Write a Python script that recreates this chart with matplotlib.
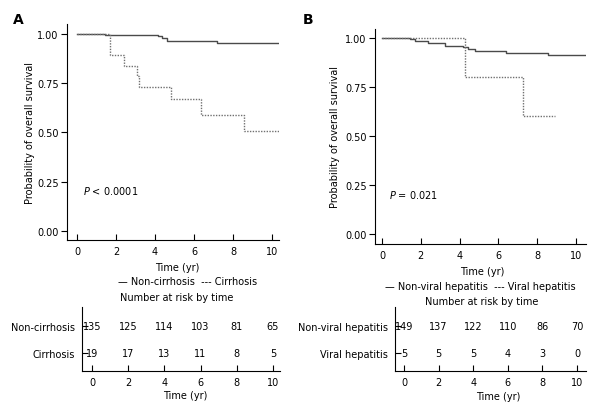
import matplotlib
matplotlib.use("Agg")
import matplotlib.pyplot as plt

# ---- data ----
time_ticks = [0, 2, 4, 6, 8, 10]
y_ticks = [0.0, 0.25, 0.50, 0.75, 1.00]
y_ticklabels = ["0.00", "0.25", "0.50", "0.75", "1.00"]

a_noncirr_t = [0, 1.45, 4.15, 4.35, 4.6, 7.2, 10.4]
a_noncirr_s = [1.0, 0.995, 0.99, 0.98, 0.965, 0.955, 0.955]
a_cirr_t = [0, 1.7, 2.4, 3.1, 3.2, 4.8, 6.35, 8.55, 10.4]
a_cirr_s = [1.0, 0.895, 0.84, 0.785, 0.73, 0.67, 0.59, 0.51, 0.51]

b_nonviral_t = [0, 1.45, 1.7, 2.35, 3.25, 4.2, 4.45, 4.8, 6.4, 8.55, 10.5]
b_nonviral_s = [1.0, 0.993, 0.985, 0.977, 0.96, 0.955, 0.945, 0.935, 0.925, 0.915, 0.915]
b_viral_t = [0, 4.28, 7.25, 8.9]
b_viral_s = [1.0, 0.8, 0.6, 0.6]

a_groups = ["Non-cirrhosis", "Cirrhosis"]
a_risk_noncirr = [135, 125, 114, 103, 81, 65]
a_risk_cirr = [19, 17, 13, 11, 8, 5]
b_groups = ["Non-viral hepatitis", "Viral hepatitis"]
b_risk_nonviral = [149, 137, 122, 110, 86, 70]
b_risk_viral = [5, 5, 5, 4, 3, 0]

plt.rcParams['font.family'] = ['DejaVu Sans']
FS = 7
W, H = 608, 414
fig = plt.figure(figsize=(W / 100, H / 100), dpi=100)

def rect(l, t, r, b):
    return [l / W, 1 - b / H, (r - l) / W, (b - t) / H]

def ftext(x, y, s, **kw):
    kw.setdefault('fontsize', FS)
    kw.setdefault('va', 'center')
    kw.setdefault('ha', 'center')
    fig.text(x / W, 1 - y / H, s, **kw)

SOLID = '#4a4a4a'
DOT = '#707070'

def km_axes(r, xlim, ylim, t1, s1, t2, s2, ptxt, pxy):
    ax = fig.add_axes(r)
    ax.step(t1, s1, where='post', color=SOLID, lw=1.0)
    ax.step(t2, s2, where='post', color=DOT, lw=1.0, linestyle=(0, (1, 1)))
    ax.set_xlim(*xlim)
    ax.set_ylim(*ylim)
    ax.set_xticks(time_ticks)
    ax.set_yticks(y_ticks)
    ax.set_yticklabels(y_ticklabels)
    for s in ['top', 'right']:
        ax.spines[s].set_visible(False)
    for s in ['left', 'bottom']:
        ax.spines[s].set_linewidth(0.8)
    ax.tick_params(axis='x', direction='in', length=4, width=0.8, labelsize=FS, pad=4)
    ax.tick_params(axis='y', direction='out', length=4, width=0.8, labelsize=FS, pad=2)
    ax.text(pxy[0], pxy[1], ptxt, fontsize=FS, ha='left', va='center', transform=ax.transData)
    return ax

def risk_axes(r, xlim, groups, row1, row2):
    ax = fig.add_axes(r)
    ax.set_xlim(*xlim)
    ax.set_ylim(-0.667, 1.70)
    for t, v in zip(time_ticks, row1):
        ax.text(t, 1, str(v), fontsize=FS, ha='center', va='center')
    for t, v in zip(time_ticks, row2):
        ax.text(t, 0, str(v), fontsize=FS, ha='center', va='center')
    ax.set_xticks(time_ticks)
    ax.set_yticks([1, 0])
    ax.set_yticklabels(groups)
    for s in ['top', 'right']:
        ax.spines[s].set_visible(False)
    for s in ['left', 'bottom']:
        ax.spines[s].set_linewidth(0.8)
    ax.tick_params(axis='x', direction='in', length=4, width=0.8, labelsize=FS, pad=4)
    ax.tick_params(axis='y', direction='in', length=4, width=0.8, labelsize=FS, pad=5)
    return ax

# Panel A
axA = km_axes(rect(67, 25, 279, 241), (-0.513, 10.36), (-0.046, 1.051),
              a_noncirr_t, a_noncirr_s, a_cirr_t, a_cirr_s,
              r"$\it{P}$ < 0.0001", (0.3, 0.21))
risk_axes(rect(82, 308, 280, 372), (-0.55, 10.39), a_groups, a_risk_noncirr, a_risk_cirr)

# Panel B
axB = km_axes(rect(375, 30, 586, 245), (-0.36, 10.52), (-0.051, 1.046),
              b_nonviral_t, b_nonviral_s, b_viral_t, b_viral_s,
              r"$\it{P}$ = 0.021", (0.35, 0.205))
risk_axes(rect(395, 308, 586, 372), (-0.52, 10.52), b_groups, b_risk_nonviral, b_risk_viral)

# labels
ftext(18, 20, "A", fontsize=10, fontweight='bold')
ftext(308, 20, "B", fontsize=10, fontweight='bold')
ftext(30, 133, "Probability of overall survival", rotation=90)
ftext(335, 137, "Probability of overall survival", rotation=90)

ftext(177, 268, "Time (yr)")
ftext(188, 282, "\u2014 Non-cirrhosis  --- Cirrhosis")
ftext(177, 298, "Number at risk by time")
ftext(185, 396, "Time (yr)")

ftext(482, 272, "Time (yr)")
ftext(480, 287, "\u2014 Non-viral hepatitis  --- Viral hepatitis")
ftext(482, 302, "Number at risk by time")
ftext(498, 397, "Time (yr)")

fig.savefig("out.png", dpi=100)
